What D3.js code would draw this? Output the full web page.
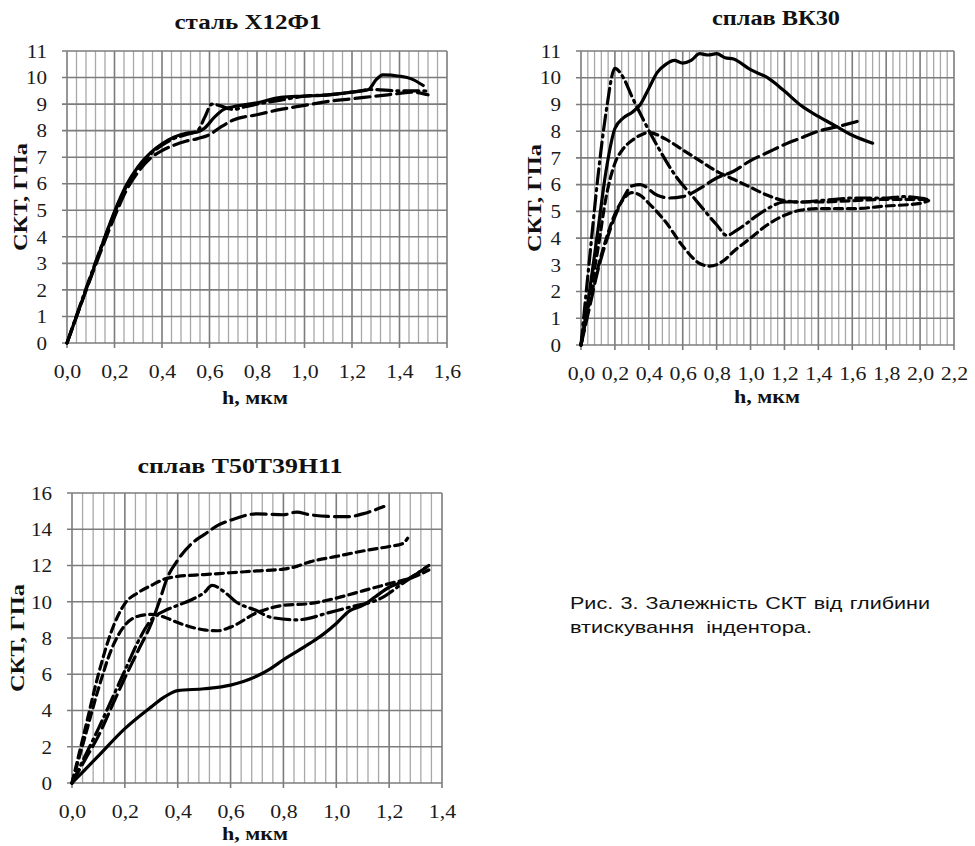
<!DOCTYPE html>
<html><head><meta charset="utf-8">
<script src="https://cdn.jsdelivr.net/npm/d3@7"></script>
<style>
body{margin:0;background:#fff} svg{display:block}
.serif{font-family:"Liberation Serif","Times New Roman",Tinos,"DejaVu Serif",serif}
.sans{font-family:"Liberation Sans",Arial,Arimo,sans-serif}
</style>
</head><body>
<svg id="c" width="975" height="846"></svg>
<script>
// ---------- DATA ----------
const steelXTicks = [0,0.2,0.4,0.6,0.8,1.0,1.2,1.4,1.6];
const steelYTicks = [0,1,2,3,4,5,6,7,8,9,10,11];
const steelSolid = [[0,0],[0.05,1.25],[0.1,2.5],[0.15,3.75],[0.2,4.95],[0.25,5.95],[0.3,6.65],[0.35,7.15],[0.4,7.5],[0.45,7.75],[0.5,7.9],[0.55,7.95],[0.58,8.1],[0.62,8.5],[0.66,8.8],[0.7,8.9],[0.8,9.05],[0.9,9.25],[1.0,9.3],[1.1,9.35],[1.2,9.45],[1.27,9.55],[1.3,9.9],[1.33,10.1],[1.4,10.05],[1.45,9.95],[1.5,9.7]];
const steelLongDash = [[0,0],[0.1,2.45],[0.2,4.75],[0.25,5.75],[0.3,6.45],[0.35,6.95],[0.4,7.25],[0.45,7.45],[0.5,7.6],[0.55,7.7],[0.6,7.85],[0.65,8.15],[0.7,8.4],[0.8,8.6],[0.9,8.8],[1.0,8.95],[1.1,9.1],[1.2,9.2],[1.3,9.3],[1.4,9.4],[1.45,9.45],[1.52,9.35]];
const steelDashDot = [[0,0],[0.1,2.55],[0.2,4.9],[0.25,5.9],[0.3,6.6],[0.35,7.1],[0.4,7.45],[0.45,7.7],[0.5,7.85],[0.55,8.0],[0.58,8.5],[0.61,9.0],[0.64,8.95],[0.7,8.8],[0.75,8.9],[0.8,9.0],[0.9,9.15],[1.0,9.3],[1.1,9.35],[1.2,9.45],[1.28,9.55],[1.4,9.5],[1.5,9.5],[1.53,9.45]];

const vkXTicks = [0,0.2,0.4,0.6,0.8,1.0,1.2,1.4,1.6,1.8,2.0,2.2];
const vkYTicks = [0,1,2,3,4,5,6,7,8,9,10,11];
const vkSolid = [[0,0],[0.05,2.0],[0.1,4.3],[0.15,6.6],[0.2,8.1],[0.25,8.5],[0.3,8.7],[0.35,9.0],[0.4,9.6],[0.45,10.2],[0.5,10.5],[0.55,10.65],[0.6,10.55],[0.65,10.65],[0.7,10.9],[0.75,10.85],[0.8,10.9],[0.85,10.75],[0.9,10.7],[1.0,10.3],[1.1,10.0],[1.2,9.5],[1.3,8.95],[1.4,8.55],[1.5,8.2],[1.6,7.85],[1.72,7.55]];
const vkDashDot = [[0,0],[0.05,3.2],[0.1,6.3],[0.15,8.8],[0.2,10.35],[0.25,10.0],[0.3,9.3],[0.37,8.4],[0.45,7.45],[0.55,6.4],[0.68,5.4],[0.8,4.5],[0.86,4.1],[0.92,4.3],[1.04,4.85],[1.1,5.1],[1.2,5.35],[1.3,5.35],[1.4,5.4],[1.5,5.45],[1.6,5.5],[1.7,5.5],[1.8,5.5],[1.9,5.55],[2.0,5.5],[2.05,5.45]];
const vkDashUpper = [[0,0],[0.05,1.8],[0.1,3.6],[0.15,5.6],[0.2,6.8],[0.25,7.35],[0.3,7.65],[0.35,7.85],[0.4,7.95],[0.5,7.7],[0.6,7.3],[0.7,6.9],[0.8,6.5],[0.9,6.2],[1.0,5.9],[1.1,5.6],[1.2,5.4],[1.3,5.35],[1.4,5.35],[1.6,5.4],[1.8,5.45],[2.0,5.45],[2.05,5.45]];
const vkDashLower = [[0,0],[0.05,1.6],[0.1,2.9],[0.15,4.0],[0.2,4.9],[0.25,5.45],[0.3,5.7],[0.35,5.6],[0.4,5.3],[0.5,4.6],[0.6,3.7],[0.7,3.05],[0.76,2.95],[0.85,3.2],[0.9,3.5],[1.0,4.0],[1.1,4.5],[1.2,4.85],[1.3,5.05],[1.4,5.1],[1.6,5.1],[1.8,5.2],[2.0,5.3],[2.05,5.4]];
const vkLongDash = [[0,0],[0.05,1.4],[0.1,2.8],[0.15,3.9],[0.2,4.8],[0.25,5.5],[0.3,5.95],[0.35,6.0],[0.45,5.6],[0.52,5.5],[0.6,5.55],[0.7,5.85],[0.8,6.25],[0.9,6.5],[1.0,6.9],[1.1,7.2],[1.2,7.5],[1.3,7.75],[1.4,8.0],[1.5,8.15],[1.65,8.4]];

const tXTicks = [0,0.2,0.4,0.6,0.8,1.0,1.2,1.4];
const tYTicks = [0,2,4,6,8,10,12,14,16];
const tSolid = [[0,0],[0.1,1.5],[0.2,3.0],[0.3,4.2],[0.35,4.75],[0.4,5.1],[0.5,5.2],[0.6,5.4],[0.7,5.9],[0.75,6.3],[0.8,6.8],[0.9,7.7],[0.95,8.2],[1.0,8.8],[1.05,9.5],[1.1,9.8],[1.15,10.3],[1.2,10.8],[1.25,11.1],[1.3,11.5],[1.35,12.0]];
const tLongDash = [[0,0],[0.05,1.3],[0.1,2.6],[0.15,4.2],[0.2,5.8],[0.25,7.3],[0.3,8.8],[0.33,10.0],[0.36,11.3],[0.4,12.3],[0.46,13.3],[0.5,13.7],[0.55,14.2],[0.6,14.5],[0.7,14.85],[0.8,14.8],[0.85,14.95],[0.9,14.8],[1.0,14.7],[1.05,14.7],[1.1,14.85],[1.18,15.25]];
const tDashTop = [[0,0],[0.05,3.0],[0.1,6.0],[0.15,8.4],[0.2,9.9],[0.25,10.5],[0.3,10.9],[0.35,11.25],[0.4,11.4],[0.5,11.5],[0.6,11.6],[0.7,11.7],[0.8,11.8],[0.85,11.95],[0.9,12.2],[1.0,12.5],[1.1,12.8],[1.2,13.05],[1.25,13.2],[1.27,13.5]];
const tDashLow = [[0,0],[0.05,2.6],[0.1,5.2],[0.15,7.4],[0.2,8.7],[0.25,9.2],[0.3,9.3],[0.35,9.15],[0.4,8.85],[0.5,8.45],[0.55,8.4],[0.6,8.6],[0.7,9.4],[0.8,9.8],[0.9,9.9],[1.0,10.2],[1.1,10.6],[1.2,11.0],[1.3,11.4],[1.35,11.75]];
const tDashDot = [[0,0],[0.05,1.5],[0.1,3.0],[0.15,4.6],[0.2,6.2],[0.25,7.8],[0.3,9.0],[0.35,9.5],[0.4,9.8],[0.45,10.1],[0.5,10.5],[0.53,10.9],[0.58,10.5],[0.62,10.0],[0.7,9.5],[0.75,9.15],[0.85,9.0],[0.9,9.1],[0.96,9.35],[1.05,9.7],[1.17,10.2],[1.25,11.0],[1.34,11.9]];

const titles = ["сталь Х12Ф1", "сплав ВК30", "сплав Т50Т39Н11"];
const yLabel = "СКТ, ГПа";
const xLabel = "h, мкм";
const captionLines = ["Рис. 3. Залежність СКТ від глибини", "втискування  індентора."];

// ---------- STYLE / LAYOUT ----------
const DASH = {solid:null, long:"15,6", dash:"8,5", dashdot:"15,5,2,5"};
const panels = [
  {title:titles[0], xt:steelXTicks, yt:steelYTicks, box:{l:67,r:447,t:51,b:343},
   titleXY:[248,29], titleW:147, yLab:[27,197], xLab:[255,404],
   series:[[steelLongDash,"long"],[steelDashDot,"dashdot"],[steelSolid,"solid"]]},
  {title:titles[1], xt:vkXTicks, yt:vkYTicks, box:{l:581,r:954,t:51,b:345},
   titleXY:[776,25], titleW:128, yLab:[541,198], xLab:[767,403],
   series:[[vkDashUpper,"dash"],[vkDashLower,"dash"],[vkLongDash,"long"],[vkDashDot,"dashdot"],[vkSolid,"solid"]]},
  {title:titles[2], xt:tXTicks, yt:tYTicks, box:{l:72,r:442,t:493,b:783},
   titleXY:[240,473], titleW:205, yLab:[24,638], xLab:[255,840],
   series:[[tDashTop,"dash"],[tDashLow,"dash"],[tLongDash,"long"],[tDashDot,"dashdot"],[tSolid,"solid"]]}
];

const svg = d3.select("#c");
const fmt = d => d3.format(".1f")(d).replace(".", ",");

panels.forEach((p) => {
  const xMax = p.xt[p.xt.length-1], yMax = p.yt[p.yt.length-1];
  const x = d3.scaleLinear().domain([0, xMax]).range([p.box.l, p.box.r]);
  const y = d3.scaleLinear().domain([0, yMax]).range([p.box.b, p.box.t]);
  const g = svg.append("g");

  const nMinor = Math.round(xMax / 0.04);
  const minor = d3.range(1, nMinor).filter(i => i % 5 !== 0).map(i => i * 0.04);
  g.selectAll(".mn").data(minor).join("line")
    .attr("x1", d => x(d)).attr("x2", d => x(d)).attr("y1", y(yMax)).attr("y2", y(0))
    .attr("stroke", "#a8a8a8").attr("stroke-width", 1.3);
  g.selectAll(".mjx").data(p.xt).join("line")
    .attr("x1", d => x(d)).attr("x2", d => x(d)).attr("y1", y(yMax)).attr("y2", y(0) + 5)
    .attr("stroke", "#7c7c7c").attr("stroke-width", 1.6);
  g.selectAll(".mjy").data(p.yt).join("line")
    .attr("x1", x(0) - 5).attr("x2", x(xMax)).attr("y1", d => y(d)).attr("y2", d => y(d))
    .attr("stroke", "#7c7c7c").attr("stroke-width", 1.6);

  const xa = g.append("g").attr("transform", `translate(0,${y(0)})`)
    .call(d3.axisBottom(x).tickValues(p.xt).tickFormat(fmt).tickSize(0).tickPadding(21));
  const ya = g.append("g").attr("transform", `translate(${x(0)},0)`)
    .call(d3.axisLeft(y).tickValues(p.yt).tickFormat(d3.format("d")).tickSize(0).tickPadding(20));
  [xa, ya].forEach(a => {
    a.attr("font-family", null).attr("font-size", null);
    a.select(".domain").remove();
    a.selectAll("text").attr("class", "serif").style("font-size", "19.5px").attr("fill", "#1a1a1a");
  });
  xa.selectAll("text").each(function(){ const L = this.getComputedTextLength();
    d3.select(this).attr("textLength", L*1.12).attr("lengthAdjust","spacingAndGlyphs"); });
  ya.selectAll("text").each(function(){ const L = this.getComputedTextLength();
    d3.select(this).attr("textLength", L*1.08).attr("lengthAdjust","spacingAndGlyphs"); });

  const line = d3.line().x(d => x(d[0])).y(d => y(d[1])).curve(d3.curveMonotoneX);
  p.series.forEach(([data, style]) => {
    g.append("path").datum(data).attr("d", line).attr("fill", "none")
      .attr("stroke", "#000").attr("stroke-width", 3.2)
      .attr("stroke-linejoin", "round").attr("stroke-linecap", "round")
      .attr("stroke-dasharray", DASH[style]);
  });

  g.append("text").attr("class", "serif").attr("x", p.titleXY[0]).attr("y", p.titleXY[1])
    .attr("text-anchor", "middle").style("font-weight", "bold").style("font-size", "20px").attr("fill", "#111")
    .attr("textLength", p.titleW).attr("lengthAdjust", "spacingAndGlyphs").text(p.title);
  g.append("text").attr("class", "serif").attr("transform", `translate(${p.yLab[0]},${p.yLab[1]}) rotate(-90)`)
    .attr("text-anchor", "middle").style("font-weight", "bold").style("font-size", "18px").attr("fill", "#111")
    .attr("textLength", 108).attr("lengthAdjust", "spacingAndGlyphs").text(yLabel);
  g.append("text").attr("class", "serif").attr("x", p.xLab[0]).attr("y", p.xLab[1])
    .attr("text-anchor", "middle").style("font-weight", "bold").style("font-size", "18px").attr("fill", "#111")
    .attr("textLength", 66).attr("lengthAdjust", "spacingAndGlyphs").text(xLabel);
});

// caption (justified first line, horizontally widened glyphs)
const cap = svg.append("g");
const l1 = cap.append("text").attr("class", "sans").style("font-size", "17px").attr("fill", "#111")
  .attr("x", 570).attr("y", 609).text(captionLines[0]);
const nat = l1.node().getComputedTextLength();
const spaces = captionLines[0].split(" ").length - 1;
l1.attr("word-spacing", Math.max(0, (284 - nat) / spaces))
  .attr("textLength", 360).attr("lengthAdjust", "spacingAndGlyphs");
cap.append("text").attr("class", "sans").style("font-size", "17px").attr("fill", "#111")
  .attr("x", 570).attr("y", 633).style("white-space", "pre")
  .attr("textLength", 242).attr("lengthAdjust", "spacingAndGlyphs").text(captionLines[1]);
</script>
</body></html>
